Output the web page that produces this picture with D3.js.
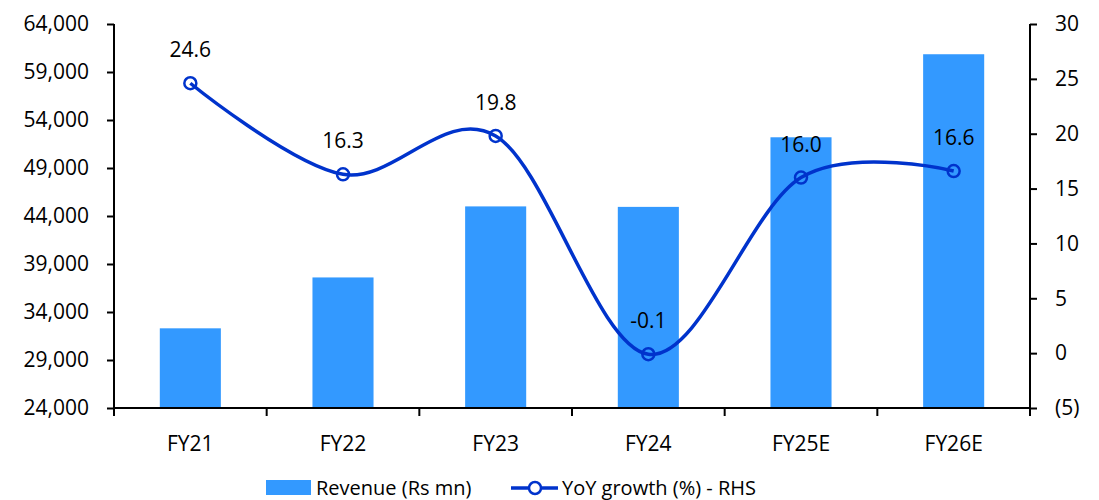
<!DOCTYPE html>
<html>
<head>
<meta charset="utf-8">
<script src="https://cdn.jsdelivr.net/npm/d3@7"></script>
<style>
  body { margin: 0; background: #fff; }
  text { font-family: "Open Sans", sans-serif; fill: #000; }
</style>
</head>
<body>
<script>
// chart data
var years = ["FY21", "FY22", "FY23", "FY24", "FY25E", "FY26E"];
var revenue = [32300, 37600, 45000, 44950, 52200, 60850];
var growth = [24.6, 16.3, 19.8, -0.1, 16.0, 16.6];
var leftTicks = [24000, 29000, 34000, 39000, 44000, 49000, 54000, 59000, 64000];
var rightTicks = [-5, 0, 5, 10, 15, 20, 25, 30];

var width = 1099, height = 500;
var margin = {top: 24, right: 69, bottom: 92, left: 114};
var w = width - margin.left - margin.right,
    h = height - margin.top - margin.bottom;

var svg = d3.select("body").append("svg")
    .attr("width", width)
    .attr("height", height);

var g = svg.append("g")
    .attr("transform", "translate(" + margin.left + "," + margin.top + ")");

// scales
var x = d3.scaleBand().domain(years).range([0, w]).paddingInner(0.6).paddingOuter(0.3);
var xc = d3.scaleBand().domain(years).range([0, w]);
var y = d3.scaleLinear().domain([24000, 64000]).range([h, 0]);
var y2 = d3.scaleLinear().domain([-5, 30]).range([h, 0]);

// bars
g.selectAll(".bar")
    .data(revenue)
    .enter().append("rect")
    .attr("class", "bar")
    .attr("x", function(d, i) { return x(years[i]); })
    .attr("width", x.bandwidth())
    .attr("y", function(d) { return y(d); })
    .attr("height", function(d) { return h - y(d); })
    .attr("fill", "#3399ff");

// axes
var fmt = d3.format(",");
var yAxis = g.append("g")
    .call(d3.axisLeft(y).tickValues(leftTicks).tickSize(7).tickPadding(18).tickFormat(fmt));

var y2Axis = g.append("g")
    .attr("transform", "translate(" + w + ",0)")
    .call(d3.axisRight(y2).tickValues(rightTicks).tickSize(7).tickPadding(18)
      .tickFormat(function(d) { return d < 0 ? "(" + Math.abs(d) + ")" : d; }));
y2Axis.selectAll("text").attr("text-anchor", "start");

var xAxis = g.append("g")
    .attr("transform", "translate(0," + h + ")")
    .call(d3.axisBottom(xc).tickSize(0).tickPadding(28));

// category boundary ticks
g.selectAll(".xtick")
    .data(d3.range(years.length + 1))
    .enter().append("line")
    .attr("x1", function(i) { return i * xc.step(); })
    .attr("x2", function(i) { return i * xc.step(); })
    .attr("y1", h)
    .attr("y2", h + 8)
    .attr("stroke", "#000")
    .attr("stroke-width", 2);

[yAxis, y2Axis, xAxis].forEach(function(a) {
  a.selectAll("path, line").attr("stroke", "#000").attr("stroke-width", 2);
  a.selectAll("text").style("font-size", "21px").attr("fill", "#000")
    .style("font-family", "'Open Sans', sans-serif");
  a.select(".domain").attr("d", a === xAxis ? "M0,0H" + w : "M0,0V" + h);
});

// growth line
var cx = function(i) { return xc(years[i]) + xc.bandwidth() / 2; };
var line = d3.line()
    .x(function(d, i) { return cx(i); })
    .y(function(d) { return y2(d); })
    .curve(d3.curveCardinal.tension(0));

g.append("path")
    .datum(growth)
    .attr("d", line)
    .attr("fill", "none")
    .attr("stroke", "#0033cc")
    .attr("stroke-width", 3.5);

g.selectAll(".pt")
    .data(growth)
    .enter().append("circle")
    .attr("cx", function(d, i) { return cx(i); })
    .attr("cy", function(d) { return y2(d); })
    .attr("r", 6)
    .attr("fill", "none")
    .attr("stroke", "#0033cc")
    .attr("stroke-width", 2.5);

g.selectAll(".lbl")
    .data(growth)
    .enter().append("text")
    .attr("x", function(d, i) { return cx(i); })
    .attr("y", function(d) { return y2(d) - 26; })
    .attr("text-anchor", "middle")
    .style("font-size", "21px")
    .text(function(d) { return d.toFixed(1); });

// legend
var lg = svg.append("g").attr("transform", "translate(266,480)");
lg.append("rect").attr("width", 45).attr("height", 15).attr("fill", "#3399ff");
lg.append("text").attr("x", 50).attr("y", 15).style("font-size", "20px").text("Revenue (Rs mn)");
lg.append("line").attr("x1", 245).attr("x2", 292).attr("y1", 8).attr("y2", 8)
    .attr("stroke", "#0033cc").attr("stroke-width", 3.5);
lg.append("circle").attr("cx", 269).attr("cy", 8).attr("r", 6)
    .attr("fill", "#fff").attr("stroke", "#0033cc").attr("stroke-width", 2.5);
lg.append("text").attr("x", 296).attr("y", 15).style("font-size", "20px").text("YoY growth (%) - RHS");
</script>
</body>
</html>
